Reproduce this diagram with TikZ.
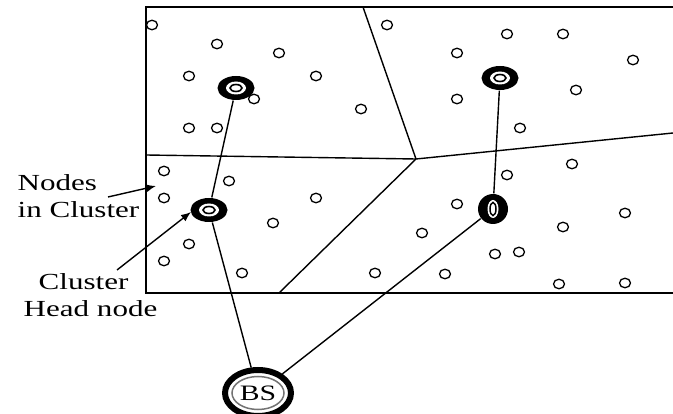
\documentclass[tikz,border=0pt]{standalone}
\usepackage{fontspec}
\setmainfont{Liberation Serif}
\usetikzlibrary{shapes.geometric, arrows.meta}
\newcommand{\widetext}[1]{\scalebox{1.35}[1]{#1}}

\begin{document}
\begin{tikzpicture}[x=1pt, y=-1pt, >={Latex[length=10pt, width=8pt]}, line width=1.4pt,
  sensor/.style={ellipse, draw, fill=white, minimum width=11pt, minimum height=9.5pt, inner sep=0pt, line width=1.3pt},
  head/.style={ellipse, fill=black, minimum width=37pt, minimum height=24pt, inner sep=0pt,
    path picture={\fill[white] (path picture bounding box.center) ellipse [x radius=10pt, y radius=6.5pt];
      \draw[line width=1.6pt] (path picture bounding box.center) ellipse [x radius=6pt, y radius=3.5pt];}},
  headv/.style={ellipse, fill=black, minimum width=30pt, minimum height=30pt, inner sep=0pt,
    path picture={\fill[white] (path picture bounding box.center) ellipse [x radius=5.5pt, y radius=9pt];
      \draw[line width=1.5pt] (path picture bounding box.center) ellipse [x radius=3pt, y radius=6.5pt];}},
  station/.style={ellipse, draw, line width=6pt, fill=white, minimum width=66pt, minimum height=46pt, inner sep=0pt,
    font=\fontsize{22}{24}\selectfont,
    path picture={\draw[line width=1.5pt, black!55] (path picture bounding box.center) ellipse [x radius=26pt, y radius=16.5pt];}},
  legendtext/.style={anchor=north west, inner sep=0pt, align=left, font=\fontsize{23}{27}\selectfont}]
\useasboundingbox (0,0) rectangle (673,414);

% field and cluster borders
\draw (673,7) -- (146,7) -- (146,293) -- (673,293);
\coordinate (mid) at (416,159);
\draw (363,7) -- (mid);
\draw (146,155) -- (mid);
\draw (mid) -- (673,133);
\draw (mid) -- (279,293);

% sensor nodes
\node[sensor] (a1) at (152,25) {};
\node[sensor] (a2) at (217,44) {};
\node[sensor] (a3) at (279,53) {};
\node[sensor] (a4) at (189,76) {};
\node[sensor] (a5) at (316,76) {};
\node[sensor] (a6) at (254,99) {};
\node[sensor] (a7) at (361,109) {};
\node[sensor] (a8) at (189,128) {};
\node[sensor] (a9) at (217,128) {};
\node[sensor] (b1) at (387,25) {};
\node[sensor] (b2) at (507,34) {};
\node[sensor] (b3) at (563,34) {};
\node[sensor] (b4) at (457,53) {};
\node[sensor] (b5) at (633,60) {};
\node[sensor] (b6) at (576,90) {};
\node[sensor] (b7) at (457,99) {};
\node[sensor] (b8) at (520,128) {};
\node[sensor] (c1) at (164,171) {};
\node[sensor] (c2) at (229,181) {};
\node[sensor] (c3) at (164,198) {};
\node[sensor] (c4) at (316,198) {};
\node[sensor] (c5) at (273,223) {};
\node[sensor] (c6) at (189,244) {};
\node[sensor] (c7) at (164,261) {};
\node[sensor] (c8) at (242,273) {};
\node[sensor] (d1) at (572,164) {};
\node[sensor] (d2) at (507,175) {};
\node[sensor] (d3) at (457,204) {};
\node[sensor] (d4) at (625,213) {};
\node[sensor] (d5) at (422,233) {};
\node[sensor] (d6) at (563,227) {};
\node[sensor] (d7) at (495,254) {};
\node[sensor] (d8) at (519,252) {};
\node[sensor] (d9) at (445,274) {};
\node[sensor] (d10) at (375,273) {};
\node[sensor] (d11) at (559,284) {};
\node[sensor] (d12) at (625,283) {};

% cluster heads and base station
\node[head] (cha) at (236,88) {};
\node[head] (chb) at (500,78) {};
\node[head] (chc) at (209,210) {};
\node[headv] (chd) at (493,209) {};
\node[station] (bs) at (258,393) {\widetext{BS}};

\draw (cha) -- (chc);
\draw (chb) -- (chd);
\draw (chc) -- (bs);
\draw (chd) -- (bs);

% labels
\node[legendtext] (nodestxt) at (17,174) {\widetext{Nodes}\\\widetext{in Cluster}};
\node[legendtext] (headtxt) at (23,273) {\hspace*{15pt}\widetext{Cluster}\\\widetext{Head node}};
\coordinate (nodestail) at (108,197);
\coordinate (nodestip) at (156,186);
\coordinate (headtail) at (117,270);
\coordinate (headtip) at (191,212);
\draw[->] (nodestail) -- (nodestip);
\draw[->] (headtail) -- (headtip);
\end{tikzpicture}
\end{document}
